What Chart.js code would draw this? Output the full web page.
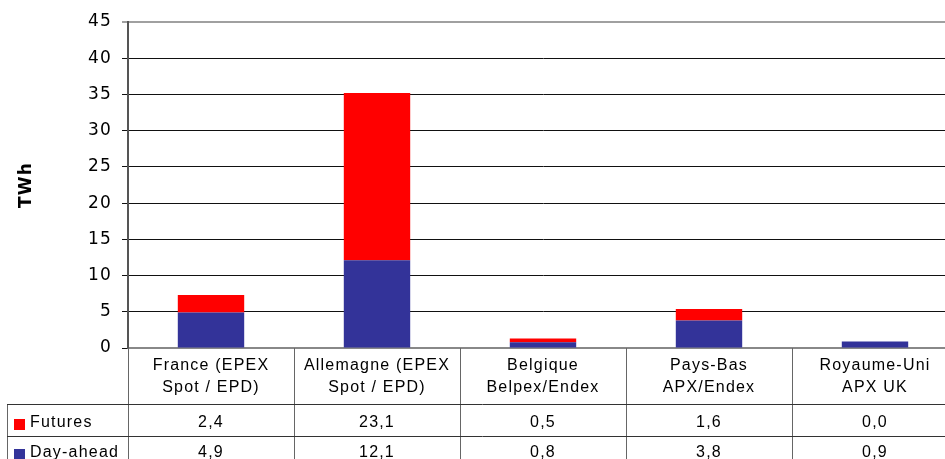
<!DOCTYPE html>
<html>
<head>
<meta charset="utf-8">
<script src="https://cdn.jsdelivr.net/npm/chart.js@4"></script>
<style>
  html, body { margin: 0; padding: 0; background: #fff; overflow: hidden; }
  #wrap { width: 945px; height: 459px; overflow: hidden; }
  #box { width: 960px; height: 459px; position: relative; }
</style>
</head>
<body>
<div id="wrap"><div id="box"><canvas id="chart"></canvas></div></div>
<script>
const categories = [
  ["France (EPEX", "Spot / EPD)"],
  ["Allemagne (EPEX", "Spot / EPD)"],
  ["Belgique", "Belpex/Endex"],
  ["Pays-Bas", "APX/Endex"],
  ["Royaume-Uni", "APX UK"],
];
const futures = [2.4, 23.1, 0.5, 1.6, 0.0];
const dayAhead = [4.9, 12.1, 0.8, 3.8, 0.9];
const yMax = 45;
const yStep = 5;

const tableFont = "16px 'Liberation Sans', Arial, sans-serif";

const fmt = (v) => v.toFixed(1).replace(".", ",");

// the original uses a loosely spaced font, set it on the context before drawing
const spacing = {
  id: "spacing",
  beforeDraw(chart) {
    chart.ctx.letterSpacing = "1.2px";
  },
};

// draws the data table under the x axis (rows + grid lines)
const dataTable = {
  id: "dataTable",
  afterDraw(chart) {
    const ctx = chart.ctx;
    const xs = chart.scales.x;
    const area = chart.chartArea;
    const n = categories.length;
    const colW = xs.width / n;
    const rowTop = 404;
    const rowH = 32;
    const rows = [
      { label: "Futures", color: "#ff0000", data: futures },
      { label: "Day-ahead", color: "#333399", data: dayAhead },
    ];

    ctx.save();
    ctx.lineWidth = 1;
    ctx.strokeStyle = "#666";
    ctx.beginPath();
    for (let i = 0; i <= n; i++) {
      const px = Math.round(xs.left + i * colW) + 0.5;
      ctx.moveTo(px, area.bottom);
      ctx.lineTo(px, 470);
    }
    ctx.moveTo(7.5, rowTop);
    ctx.lineTo(7.5, 470);
    ctx.stroke();

    ctx.strokeStyle = "#333";
    ctx.beginPath();
    for (let r = 0; r <= rows.length; r++) {
      const py = rowTop + r * rowH + 0.5;
      ctx.moveTo(7, py);
      ctx.lineTo(area.right, py);
    }
    ctx.stroke();

    ctx.font = tableFont;
    ctx.textBaseline = "middle";
    rows.forEach((row, r) => {
      const cy = rowTop + 19 + r * 30;
      ctx.fillStyle = row.color;
      ctx.fillRect(14, cy - 4, 11, 11);
      ctx.fillStyle = "#000";
      ctx.textAlign = "left";
      ctx.fillText(row.label, 30, cy);
      ctx.textAlign = "center";
      row.data.forEach((v, i) => {
        ctx.fillText(fmt(v), xs.getPixelForValue(i), cy);
      });
    });
    ctx.restore();
  },
};

new Chart(document.getElementById("chart"), {
  type: "bar",
  data: {
    labels: categories,
    datasets: [
      {
        label: "Day-ahead",
        data: dayAhead,
        backgroundColor: "#333399",
        barPercentage: 0.4,
        categoryPercentage: 1,
      },
      {
        label: "Futures",
        data: futures,
        backgroundColor: "#ff0000",
        barPercentage: 0.4,
        categoryPercentage: 1,
      },
    ],
  },
  options: {
    responsive: true,
    maintainAspectRatio: false,
    animation: false,
    layout: { padding: { left: 0, top: 22, right: 2, bottom: 0 } },
    plugins: {
      legend: { display: false },
      tooltip: { enabled: false },
    },
    scales: {
      x: {
        stacked: true,
        grid: { display: false, drawTicks: false },
        border: { color: "#888", width: 2 },
        ticks: {
          color: "#000",
          padding: 7,
          maxRotation: 0,
          autoSkip: false,
          font: { family: "'Liberation Sans', Arial, sans-serif", size: 16, lineHeight: 1.34 },
        },
        afterFit(scale) {
          scale.height = 111;
        },
      },
      y: {
        stacked: true,
        min: 0,
        max: yMax,
        ticks: {
          stepSize: yStep,
          color: "#000",
          padding: 10,
          font: { family: "'DejaVu Sans', Verdana, sans-serif", size: 17 },
        },
        grid: {
          color: (c) => (c.tick && c.tick.value === yMax ? "#a0a0a0" : "#111"),
          lineWidth: (c) => (c.tick && c.tick.value === yMax ? 2 : 1),
          tickLength: 6,
        },
        border: { color: "#555", width: 2 },
        title: {
          display: true,
          text: "TWh",
          color: "#000",
          padding: { top: 16, bottom: 0 },
          font: { family: "'DejaVu Sans', Verdana, sans-serif", size: 17, weight: "bold" },
        },
        afterFit(scale) {
          scale.width = 128;
        },
      },
    },
  },
  plugins: [spacing, dataTable],
});
</script>
</body>
</html>
